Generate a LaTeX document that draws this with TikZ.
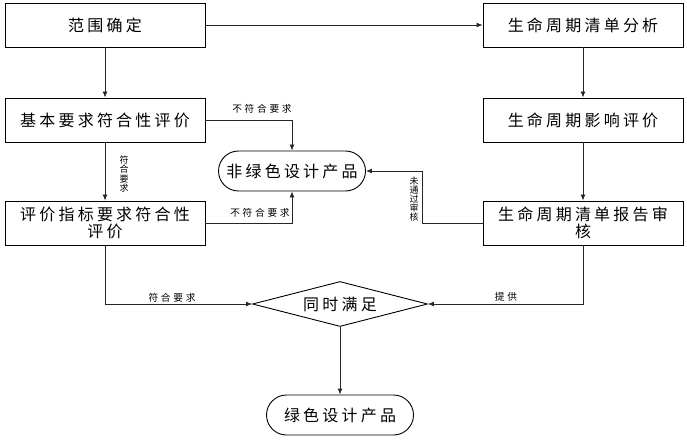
\documentclass[tikz,border=0pt]{standalone}
\usepackage{fontspec}
\usepackage{tikz}
\usetikzlibrary{arrows.meta,shapes.geometric,shapes.misc}
\newfontfamily\boxfont[LetterSpace=20]{Noto Sans CJK SC}
\newfontfamily\lblfont[LetterSpace=28]{Noto Sans CJK SC}
\newfontfamily\vlblfont{Noto Sans CJK SC}

\begin{document}
\begin{tikzpicture}[x=1pt,y=-1pt,
  stepbox/.style={draw,line width=0.9pt,minimum width=200,minimum height=44,inner sep=0pt,
    align=center,font=\boxfont\fontsize{16}{17}\selectfont},
  endbox/.style={draw,rounded rectangle,line width=0.9pt,minimum width=147,minimum height=40,
    inner sep=0pt,font=\boxfont\fontsize{16}{17}\selectfont},
  decide/.style={draw,diamond,line width=0.9pt,minimum width=175,minimum height=45,aspect=3.9,
    inner sep=0pt,font=\boxfont\fontsize{16}{17}\selectfont},
  conn/.style={line width=0.9pt,draw=black!85,-{Latex[length=6pt,width=5pt]}},
  lbl/.style={inner sep=0pt,font=\lblfont\fontsize{9.7}{10}\selectfont},
  vlbl/.style={inner sep=0pt,align=center,font=\vlblfont\fontsize{9}{9.2}\selectfont}]
  \useasboundingbox (0,0) rectangle (687,446);
  % left column
  \node[stepbox] (fanwei) at (105,25) {范围确定};
  \node[stepbox] (jiben) at (105,120) {基本要求符合性评价};
  \node[stepbox] (zhibiao) at (105,223) {评价指标要求符合性\\评价};
  % right column
  \node[stepbox] (qingdan) at (583,25) {生命周期清单分析};
  \node[stepbox] (yingxiang) at (583,120) {生命周期影响评价};
  \node[stepbox] (shenhe) at (583,223) {生命周期清单报告审\\核};
  % results
  \node[endbox] (feilv) at (292,171) {非绿色设计产品};
  \node[decide] (tongshi) at (340,304) {同时满足};
  \node[endbox] (lvse) at (340,415) {绿色设计产品};
  % connectors
  \draw[conn] (fanwei) -- (qingdan);
  \draw[conn] (fanwei) -- (jiben);
  \draw[conn] (qingdan) -- (yingxiang);
  \draw[conn] (yingxiang) -- (shenhe);
  \draw[conn] (jiben) -- (zhibiao);
  \draw[conn] (jiben.east) -| (feilv.north);
  \draw[conn] (zhibiao.east) -| (feilv.south);
  \draw[conn] (shenhe.west) -- ++(-60,0) |- (feilv.east);
  \draw[conn] (zhibiao.south) |- (tongshi.west);
  \draw[conn] (shenhe.south) |- (tongshi.east);
  \draw[conn] (tongshi) -- (lvse);
  % labels
  \node[lbl] (bfh1) at (262,109) {不符合要求};
  \node[lbl] (bfh2) at (260,213) {不符合要求};
  \node[vlbl] (fh1) at (124,174) {符\\合\\要\\求};
  \node[lbl] (fh2) at (172,298) {符合要求};
  \node[lbl] (tg) at (506,297) {提供};
  \node[vlbl] (wtg) at (414,199) {未\\通\\过\\审\\核};
\end{tikzpicture}
\end{document}
